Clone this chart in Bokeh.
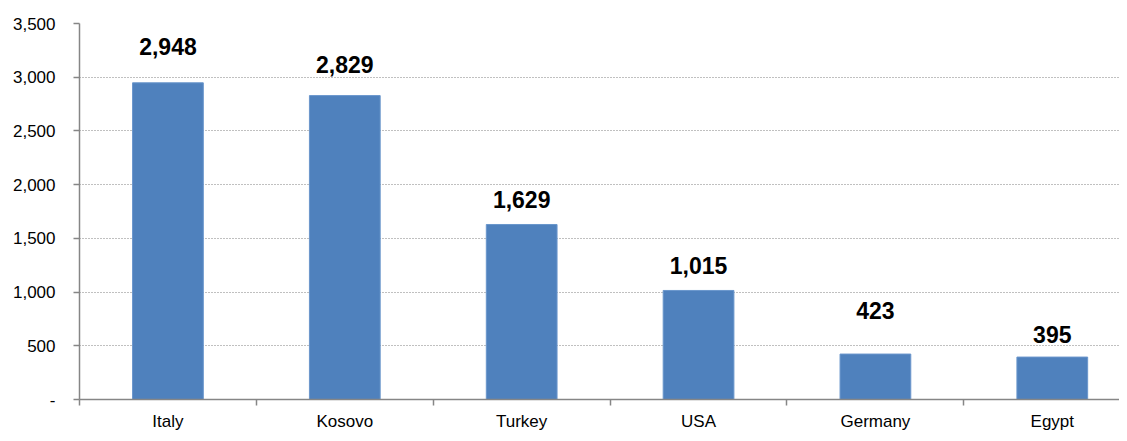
from bokeh.plotting import figure
from bokeh.models import ColumnDataSource, Range1d, FixedTicker, NumeralTickFormatter
from bokeh.core.properties import value
from bokeh.embed import file_html
from bokeh.resources import INLINE

# ---- data ----
countries = ["Italy", "Kosovo", "Turkey", "USA", "Germany", "Egypt"]
counts = [2948, 2829, 1629, 1015, 423, 395]
y_ticks = [0, 500, 1000, 1500, 2000, 2500, 3000, 3500]

# label placement (screen px above bar top, as in the reference)
label_offsets_px = [36, 31, 25, 25, 44, 23]

FONT = "Liberation Sans"
BAR = "#4F81BD"
GRAY = "#868686"

x_pos = [i + 0.5 for i in range(len(countries))]
src = ColumnDataSource(dict(
    x=x_pos,
    y=counts,
    lbl=[f"{v:,}" for v in counts],
    yoff=[-o for o in label_offsets_px],
))

p = figure(width=1119, height=433, output_backend="svg", toolbar_location=None,
           x_range=Range1d(0, 5.88), y_range=Range1d(0, 3500),
           min_border_left=79, min_border_right=0, min_border_top=23, min_border_bottom=28)
p.outline_line_color = None
p.background_fill_color = "white"

p.vbar(x="x", top="y", width=0.40, source=src, fill_color=BAR, line_color="#6A96CC", line_width=1)
p.text(x="x", y="y", text="lbl", y_offset="yoff", source=src,
       text_font=value(FONT), text_font_style="bold", text_font_size="23px",
       text_align="center", text_baseline="middle", text_color="black")

# y axis
p.yaxis.ticker = FixedTicker(ticks=y_ticks)
p.yaxis.formatter = NumeralTickFormatter(format="0,0")
p.yaxis.major_label_overrides = {0: "-"}
p.yaxis.axis_line_color = GRAY
p.yaxis.axis_line_width = 1.5
p.yaxis.major_tick_line_color = GRAY
p.yaxis.major_tick_line_width = 1.5
p.yaxis.major_tick_out = 6
p.yaxis.major_tick_in = 0
p.yaxis.minor_tick_line_color = None
p.yaxis.major_label_standoff = 18
p.yaxis.major_label_text_font = FONT
p.yaxis.major_label_text_font_size = "17px"
p.yaxis.major_label_text_color = "black"

# x axis
p.xaxis.ticker = FixedTicker(ticks=x_pos, minor_ticks=list(range(len(countries) + 1)))
p.xaxis.major_label_overrides = {xv: c for xv, c in zip(x_pos, countries)}
p.xaxis.axis_line_color = GRAY
p.xaxis.axis_line_width = 1.5
p.xaxis.major_tick_line_color = None
p.xaxis.minor_tick_line_color = GRAY
p.xaxis.minor_tick_line_width = 1.5
p.xaxis.minor_tick_out = 6
p.xaxis.minor_tick_in = 0
p.xaxis.major_label_standoff = 6
p.xaxis.major_label_text_font = FONT
p.xaxis.major_label_text_font_size = "17px"
p.xaxis.major_label_text_color = "black"

# grid
p.xgrid.grid_line_color = None
p.ygrid.grid_line_color = "#808080"
p.ygrid.grid_line_dash = "1 2"
p.ygrid.grid_line_width = 1.2

open("out.html", "w").write(file_html(p, INLINE))
